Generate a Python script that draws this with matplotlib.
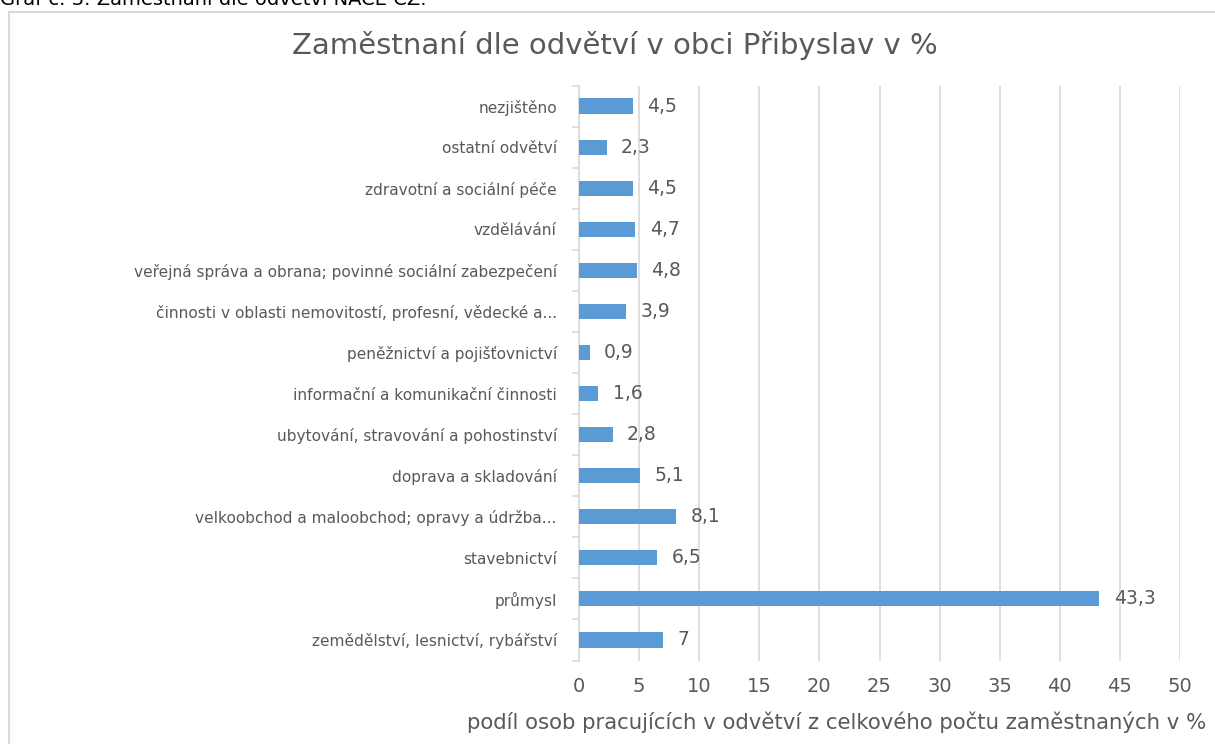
import matplotlib.pyplot as plt
from matplotlib.patches import Rectangle

# categories listed bottom -> top as in the chart
categories = [
    "zemědělství, lesnictví, rybářství",
    "průmysl",
    "stavebnictví",
    "velkoobchod a maloobchod; opravy a údržba...",
    "doprava a skladování",
    "ubytování, stravování a pohostinství",
    "informační a komunikační činnosti",
    "peněžnictví a pojišťovnictví",
    "činnosti v oblasti nemovitostí, profesní, vědecké a...",
    "veřejná správa a obrana; povinné sociální zabezpečení",
    "vzdělávání",
    "zdravotní a sociální péče",
    "ostatní odvětví",
    "nezjištěno",
]
values = [7, 43.3, 6.5, 8.1, 5.1, 2.8, 1.6, 0.9, 3.9, 4.8, 4.7, 4.5, 2.3, 4.5]
xticks = [0, 5, 10, 15, 20, 25, 30, 35, 40, 45, 50]

W, H = 1215, 744
BAR = "#5B9BD5"
TXT = "#595959"
GRID = "#D9D9D9"

plt.rcParams["font.family"] = ["DejaVu Sans"]

fig = plt.figure(figsize=(W / 100, H / 100), dpi=100)

# chart frame (cut off at right and bottom)
fig.patches.append(Rectangle((9 / W, -0.05), 1.1, 1 - 12 / H + 0.05,
                             transform=fig.transFigure, facecolor="white",
                             edgecolor=GRID, linewidth=1.5, zorder=-5))

# caption above the chart, mostly cropped
fig.text(0.0, 1 - 5 / H, "Graf č. 3: Zaměstnaní dle odvětví NACE CZ.",
         fontsize=14, color="black", va="baseline")

ax = fig.add_axes([579 / W, 1 - 660.5 / H, (1180 - 579) / W, (660.5 - 85.5) / H])
ax.set_facecolor("none")

y = range(len(categories))
ax.barh(y, values, height=0.37, color=BAR, zorder=3)

for yi, v in zip(y, values):
    label = f"{v:g}".replace(".", ",")
    ax.text(v + 1.2, yi, label, va="center", ha="left", fontsize=13.5, color=TXT)

ax.set_xlim(0, 50)
ax.set_ylim(-0.5, len(categories) - 0.5)
ax.set_xticks(xticks)
ax.set_xticklabels([str(t) for t in xticks])
ax.set_yticks(list(y))
ax.set_yticklabels(categories)
ax.set_yticks([i - 0.5 for i in range(len(categories) + 1)], minor=True)

ax.grid(axis="x", color=GRID, linewidth=1.2, zorder=0)
for s in ["top", "right", "bottom"]:
    ax.spines[s].set_visible(False)
ax.spines["left"].set_color(GRID)
ax.spines["left"].set_linewidth(1.2)

ax.tick_params(axis="x", length=0, pad=12, labelsize=14, labelcolor=TXT)
ax.tick_params(axis="y", which="major", length=0, pad=16, labelsize=11.1, labelcolor=TXT)
ax.tick_params(axis="y", which="minor", length=5, color=GRID, width=1.2)

fig.text(615 / W, 1 - 45 / H, "Zaměstnaní dle odvětví v obci Přibyslav v %",
         ha="center", va="center", fontsize=21, color=TXT)
fig.text(837 / W, 1 - 722 / H,
         "podíl osob pracujících v odvětví z celkového počtu zaměstnaných v %",
         ha="center", va="center", fontsize=15.3, color=TXT)

fig.savefig("out.png", dpi=100)
